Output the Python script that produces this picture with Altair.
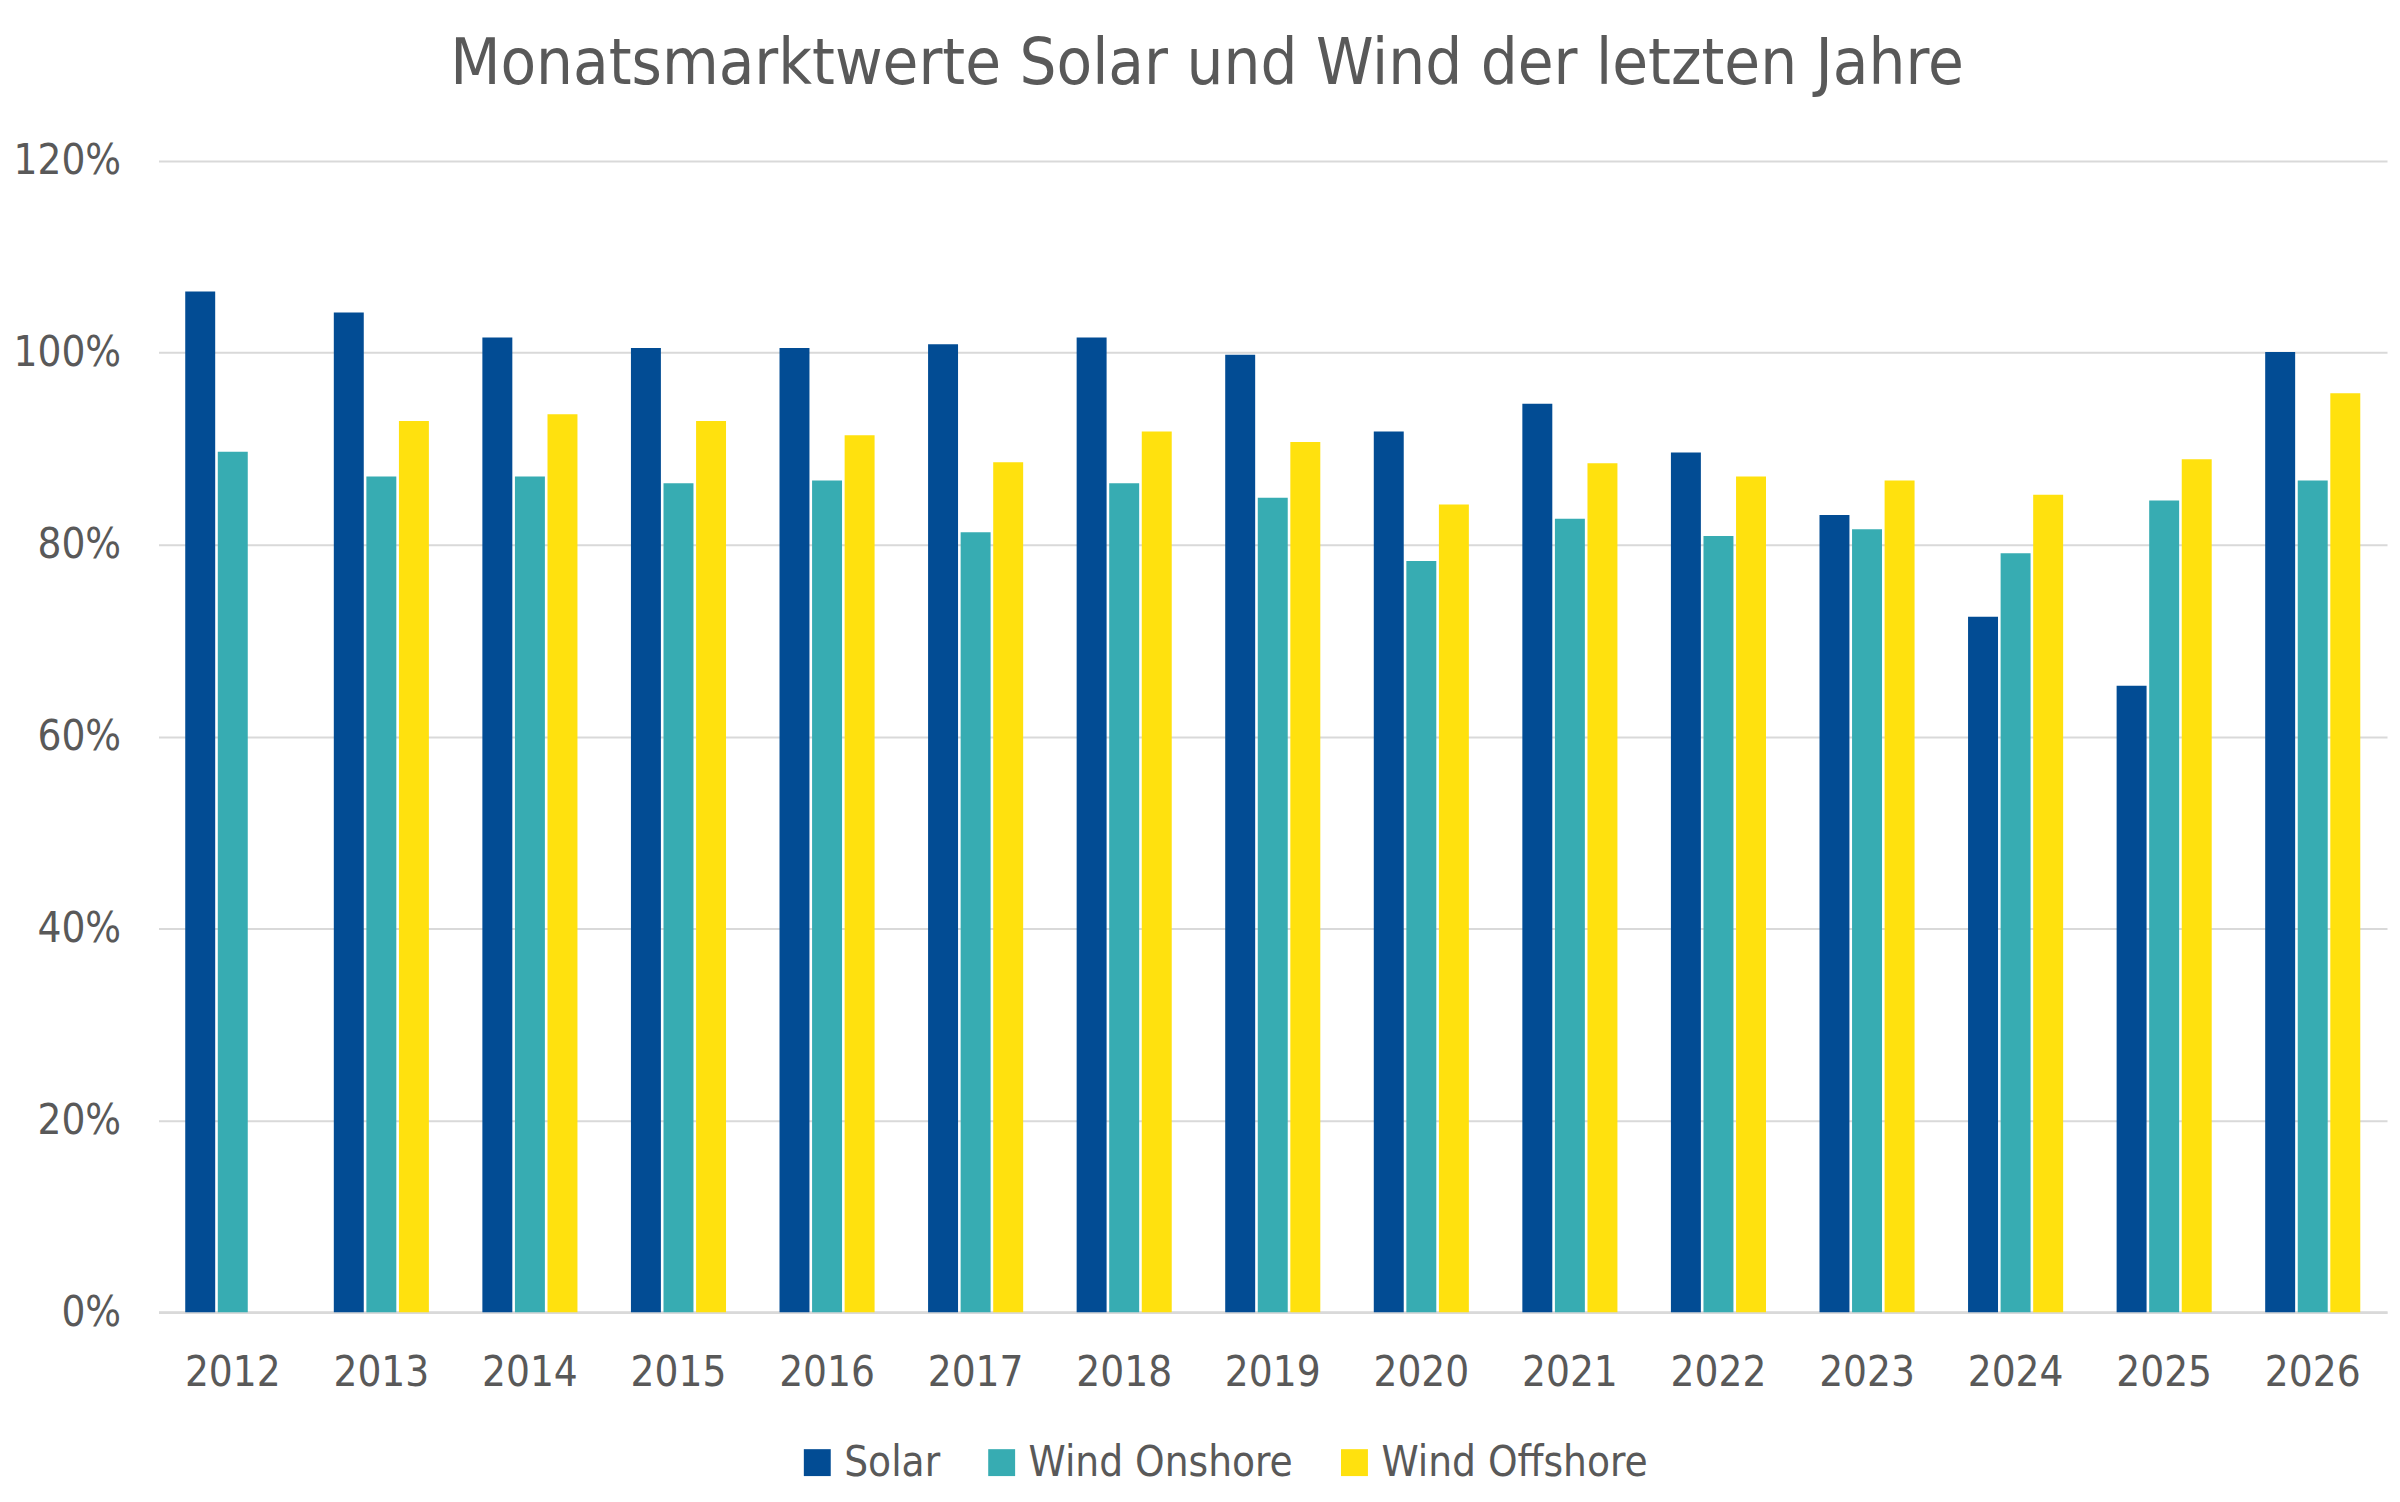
"""Monatsmarktwerte Solar und Wind als gruppiertes Balkendiagramm."""

import pandas as pd
import altair as alt

years = [str(y) for y in range(2012, 2027)]
series = ['Solar', 'Wind Onshore', 'Wind Offshore']
colors = ['#024c94', '#37acb2', '#ffe10e']

solar = [106.4, 104.2, 101.6, 100.5, 100.5, 100.9, 101.6, 99.8,
         91.8, 94.7, 89.6, 83.1, 72.5, 65.3, 100.1]
wind_onshore = [89.7, 87.1, 87.1, 86.4, 86.7, 81.3, 86.4, 84.9,
                78.3, 82.7, 80.9, 81.6, 79.1, 84.6, 86.7]
wind_offshore = [None, 92.9, 93.6, 92.9, 91.4, 88.6, 91.8, 90.7,
                 84.2, 88.5, 87.1, 86.7, 85.2, 88.9, 95.8]

FONT = 'DejaVu Sans Condensed, DejaVu Sans, sans-serif'
TEXT = '#595959'
GRID = '#d9d9d9'

rows = []
for name, values in zip(series, [solar, wind_onshore, wind_offshore]):
    for year, value in zip(years, values):
        if value is not None:
            rows.append({'year': year, 'series': name, 'value': value})
data = pd.DataFrame(rows)

chart = alt.Chart(data).mark_bar().encode(
    x=alt.X('year:N', sort=years, title=None,
            scale=alt.Scale(paddingInner=0.36, paddingOuter=0.18),
            axis=alt.Axis(labelAngle=0, labelFontSize=42, labelColor=TEXT,
                          labelFont=FONT, labelPadding=41, ticks=False,
                          domainColor=GRID, domainWidth=3, grid=False)),
    xOffset=alt.XOffset('series:N', sort=series,
                        scale=alt.Scale(domain=series, paddingInner=0.08)),
    y=alt.Y('value:Q', title=None,
            scale=alt.Scale(domain=[0, 120], nice=False),
            axis=alt.Axis(values=[0, 20, 40, 60, 80, 100, 120],
                          labelExpr="datum.value + '%'",
                          labelFontSize=42, labelColor=TEXT, labelFont=FONT,
                          labelPadding=38, ticks=False, domain=False,
                          gridColor=GRID, gridWidth=2)),
    color=alt.Color('series:N', sort=series,
                    scale=alt.Scale(domain=series, range=colors),
                    legend=alt.Legend(title=None, orient='none',
                                      direction='horizontal',
                                      legendX=640, legendY=1285,
                                      symbolType='square', symbolSize=729,
                                      symbolStrokeWidth=0, labelFontSize=42,
                                      labelColor=TEXT, labelFont=FONT,
                                      labelLimit=0, labelOffset=6,
                                      columnPadding=40)),
).properties(
    width=2236,
    height=1155,
    autosize=alt.AutoSizeParams(type='none'),
    padding={'left': 151, 'top': 151, 'right': 5, 'bottom': 188},
    title=alt.TitleParams('Monatsmarktwerte Solar und Wind der letzten Jahre',
                          fontSize=65, font=FONT, fontWeight='normal',
                          color=TEXT, anchor='middle', dx=-66, offset=42),
).configure_view(stroke=None)

chart.save('out.html', embed_options={'renderer': 'svg', 'actions': False})
